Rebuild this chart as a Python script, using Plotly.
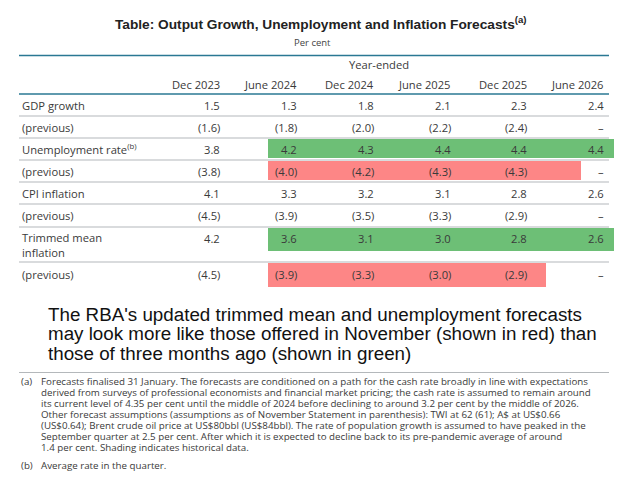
import plotly.graph_objects as go

# ---------------- data ----------------
columns = ["Dec 2023", "June 2024", "Dec 2024", "June 2025", "Dec 2025", "June 2026"]
row_labels = ["GDP growth", "(previous)", "Unemployment rate<sup>(b)</sup>", "(previous)",
              "CPI inflation", "(previous)", "Trimmed mean<br>inflation", "(previous)"]
gdp = [1.5, 1.3, 1.8, 2.1, 2.3, 2.4]
gdp_prev = [1.6, 1.8, 2.0, 2.2, 2.4, None]
unemp = [3.8, 4.2, 4.3, 4.4, 4.4, 4.4]
unemp_prev = [3.8, 4.0, 4.2, 4.3, 4.3, None]
cpi = [4.1, 3.3, 3.2, 3.1, 2.8, 2.6]
cpi_prev = [4.5, 3.9, 3.5, 3.3, 2.9, None]
trimmed = [4.2, 3.6, 3.1, 3.0, 2.8, 2.6]
trimmed_prev = [4.5, 3.9, 3.3, 3.0, 2.9, None]
rows = [gdp, gdp_prev, unemp, unemp_prev, cpi, cpi_prev, trimmed, trimmed_prev]
is_prev = [False, True, False, True, False, True, False, True]

title = "Table: Output Growth, Unemployment and Inflation Forecasts<sup>(a)</sup>"
subtitle = "Per cent"
group_header = "Year-ended"
comment = ["The RBA's updated trimmed mean and unemployment forecasts",
           "may look more like those offered in November (shown in red) than",
           "those of three months ago (shown in green)"]
note_a = ["Forecasts finalised 31 January. The forecasts are conditioned on a path for the cash rate broadly in line with expectations",
          "derived from surveys of professional economists and financial market pricing; the cash rate is assumed to remain around",
          "its current level of 4.35 per cent until the middle of 2024 before declining to around 3.2 per cent by the middle of 2026.",
          "Other forecast assumptions (assumptions as of November Statement in parenthesis): TWI at 62 (61); A$ at US$0.66",
          "(US$0.64); Brent crude oil price at US$80bbl (US$84bbl). The rate of population growth is assumed to have peaked in the",
          "September quarter at 2.5 per cent. After which it is expected to decline back to its pre-pandemic average of around",
          "1.4 per cent. Shading indicates historical data."]
note_b = "Average rate in the quarter."

# ---------------- layout geometry (screen pixels) ----------------
W, H = 632, 485
OFF = 8  # default page body margin
left, right = 19, 609
col_right = [222, 299, 376, 453, 529, 606]
row_y = [105, 127, 149, 171, 193, 215, 238, 274]
label_y = [105, 127, 149, 171, 193, 215, 245, 274]
row_lines = [116, 138, 160, 182, 204, 227, 262]
TEAL = "#2a7893"
GREY = "#b4b8bb"
GREEN = "#6dbf76"
RED = "#fd8686"
TXT = "#3a3a3a"
BODY = "Open Sans"
BS = 11.2
FN = 9.75

fig = go.Figure()
fig.add_trace(go.Scatter(x=[OFF, W - OFF], y=[OFF, H - OFF], mode="markers",
                         marker=dict(opacity=0), hoverinfo="skip", showlegend=False))

shapes = []
ann = []

def band(x0, x1, y0, y1, c):
    shapes.append(dict(type="rect", xref="x", yref="y", x0=x0, x1=x1, y0=y0, y1=y1,
                       fillcolor=c, line=dict(width=0), layer="below"))

def hline(y, c, w=1):
    shapes.append(dict(type="line", xref="x", yref="y", x0=left, x1=right, y0=y, y1=y,
                       line=dict(color=c, width=w)))

band_left = col_right[1] - 31
band(band_left, 614, 139, 158, GREEN)
band(band_left, 581, 161, 180, RED)
band(band_left, 614, 228, 251, GREEN)
band(band_left, 546, 263, 287, RED)

hline(55.5, TEAL, 1.5)
hline(94, TEAL, 1.5)
for y in row_lines:
    hline(y, GREY, 1.2)
hline(372.5, GREY, 1)

def text(x, y, s, size=BS, color=TXT, anchor="left", family=BODY):
    ann.append(dict(x=x, y=y, xref="x", yref="y", text=s, showarrow=False,
                    xanchor=anchor, yanchor="middle", align=anchor,
                    font=dict(family=family, size=size, color=color)))

text(320, 23, "<b>" + title + "</b>", size=13.7, color="#222222", anchor="center",
     family="Liberation Sans, Arial")
text(312, 42, subtitle, size=9.5, color="#444444", anchor="center")
text(379, 64, group_header, size=BS, anchor="center")
for c, x in zip(columns, col_right):
    text(x, 84, c, anchor="right")

for lab, y in zip(row_labels, label_y):
    text(left + 1, y, lab)

for vals, prev, y in zip(rows, is_prev, row_y):
    for v, x in zip(vals, col_right):
        if v is None:
            s = "–"
        elif prev:
            s = "(%.1f)" % v
        else:
            s = "%.1f" % v
        text(x, y, s, anchor="right")

for i, line in enumerate(comment):
    text(46, 314 + i * 19.7, line, size=18.8, color="#111111", family="Liberation Sans, Arial")

text(left, 381, "(a)", size=FN)
for i, line in enumerate(note_a):
    text(39, 381 + i * 11, line, size=FN)
text(left, 465, "(b)", size=FN)
text(39, 465, note_b, size=FN)

fig.update_layout(
    width=W - 2 * OFF, height=H - 2 * OFF, margin=dict(l=0, r=0, t=0, b=0),
    paper_bgcolor="white", plot_bgcolor="white",
    xaxis=dict(range=[OFF, W - OFF], visible=False, fixedrange=True),
    yaxis=dict(range=[H - OFF, OFF], visible=False, fixedrange=True),
    shapes=shapes, annotations=ann, showlegend=False,
)
fig.write_html("out.html")
